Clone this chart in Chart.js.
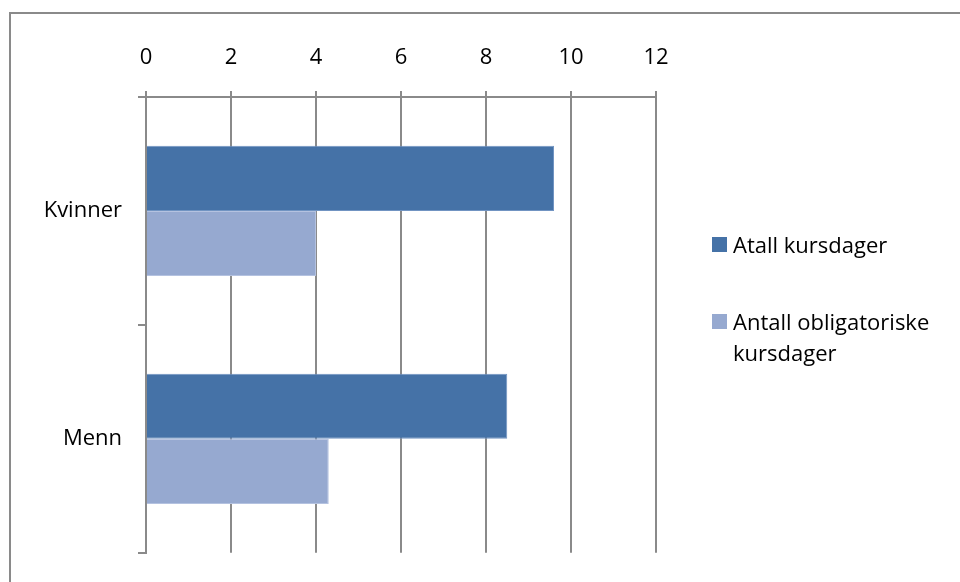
<!DOCTYPE html>
<html>
<head>
<meta charset="utf-8">
<script src="https://cdn.jsdelivr.net/npm/chart.js@4.4.0/dist/chart.umd.min.js"></script>
<style>
  html, body { margin: 0; padding: 0; background: #fff; overflow: hidden; }
  #wrap { position: relative; width: 960px; height: 582px; }
  #frame {
    position: absolute; left: 9px; top: 12px; width: 1000px; height: 640px;
    border: 2px solid #8a8a8a; box-sizing: border-box;
  }
  #chart { position: absolute; left: 0; top: 0; }
  #legend { position: absolute; left: 712px; top: 229px; font-family: "Open Sans", sans-serif; font-size: 22px; color: #000; }
  .item { position: relative; padding-left: 21px; line-height: 31px; margin-bottom: 46px; }
  .item .box { position: absolute; left: 0; top: 8px; width: 15px; height: 15px; }
</style>
</head>
<body>
<div id="wrap">
  <div id="frame"></div>
  <canvas id="chart" width="960" height="582"></canvas>
  <div id="legend"></div>
</div>
<script>
  const categories = ["Kvinner", "Menn"];
  const seriesNames = ["Atall kursdager", "Antall obligatoriske kursdager"];
  const legendLines = [["Atall kursdager"], ["Antall obligatoriske", "kursdager"]];
  const totalDays = [9.6, 8.5];
  const mandatoryDays = [4.0, 4.3];
  const xTicks = [0, 2, 4, 6, 8, 10, 12];

  const colors = ["#4572a7", "#96a9d0"];
  const edges = ["#7194c2", "#b4c2e0"];
  const gridColor = "#8a8a8a";
  const font = { family: "'Open Sans', sans-serif", size: 22 };

  const chart = new Chart(document.getElementById("chart"), {
    type: "bar",
    data: {
      labels: categories,
      datasets: [
        { label: seriesNames[0], data: totalDays, backgroundColor: colors[0], borderColor: edges[0], borderWidth: 1 },
        { label: seriesNames[1], data: mandatoryDays, backgroundColor: colors[1], borderColor: edges[1], borderWidth: 1 },
      ],
    },
    options: {
      indexAxis: "y",
      responsive: false,
      animation: false,
      categoryPercentage: 0.5714,
      barPercentage: 1.0,
      layout: { padding: { left: 0, top: 0, right: 304, bottom: 23 } },
      plugins: { legend: { display: false }, tooltip: { enabled: false } },
      scales: {
        x: {
          position: "top",
          min: 0,
          max: 12,
          afterBuildTicks: (scale) => {
            scale.ticks = xTicks.map((v) => ({ value: v }));
          },
          afterFit: (scale) => { scale.height = 97; },
          ticks: { font, color: "#000", padding: 20 },
          grid: { color: gridColor, lineWidth: 2, tickLength: 6 },
          border: { color: gridColor, width: 2 },
        },
        y: {
          offset: true,
          afterFit: (scale) => { scale.width = 146; },
          ticks: { font, color: "#000", padding: 16 },
          grid: { offset: true, drawOnChartArea: false, color: gridColor, lineWidth: 2, tickLength: 8 },
          border: { color: gridColor, width: 2 },
        },
      },
    },
  });

  // legend on the right, with the long name split over two lines
  const legend = document.getElementById("legend");
  chart.data.datasets.forEach((ds, i) => {
    const item = document.createElement("div");
    item.className = "item";
    const box = document.createElement("span");
    box.className = "box";
    box.style.background = ds.backgroundColor;
    item.appendChild(box);
    legendLines[i].forEach((line) => {
      const t = document.createElement("div");
      t.textContent = line;
      item.appendChild(t);
    });
    legend.appendChild(item);
  });
</script>
</body>
</html>
